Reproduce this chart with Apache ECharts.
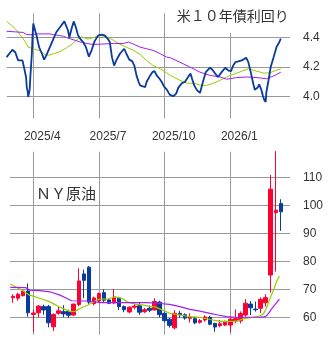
<!DOCTYPE html>
<html><head><meta charset="utf-8">
<script src="https://cdn.jsdelivr.net/npm/echarts@6/dist/echarts.min.js"></script>
<style>html,body{margin:0;padding:0;background:#fff}#c{width:333px;height:344px}</style>
</head><body><div id="c"></div>
<script>
// ---- US 10Y yield (daily closes, read at turning points) ----
const yieldDates = ['2025-03-05','2025-03-13','2025-03-17','2025-03-21','2025-03-27','2025-03-29','2025-03-30','2025-04-01','2025-04-02','2025-04-03','2025-04-04','2025-04-06','2025-04-07','2025-04-09','2025-04-10','2025-04-11','2025-04-12','2025-04-16','2025-04-19','2025-04-23','2025-04-26','2025-04-29','2025-05-04','2025-05-09','2025-05-13','2025-05-18','2025-05-24','2025-05-26','2025-05-29','2025-05-31','2025-06-03','2025-06-06','2025-06-09','2025-06-12','2025-06-16','2025-06-19','2025-06-23','2025-06-27','2025-07-01','2025-07-05','2025-07-10','2025-07-15','2025-07-19','2025-07-23','2025-07-26','2025-07-29','2025-08-01','2025-08-04','2025-08-09','2025-08-15','2025-08-18','2025-08-22','2025-08-26','2025-08-29','2025-09-01','2025-09-04','2025-09-06','2025-09-10','2025-09-13','2025-09-15','2025-09-20','2025-09-23','2025-09-26','2025-09-29','2025-10-03','2025-10-06','2025-10-09','2025-10-13','2025-10-17','2025-10-22','2025-10-26','2025-10-29','2025-11-03','2025-11-07','2025-11-12','2025-11-15','2025-11-17','2025-11-20','2025-11-24','2025-11-28','2025-12-02','2025-12-06','2025-12-12','2025-12-16','2025-12-19','2025-12-23','2025-12-28','2026-01-02','2026-01-06','2026-01-10','2026-01-13','2026-01-16','2026-01-20','2026-01-25','2026-01-31','2026-02-03','2026-02-06','2026-02-10','2026-02-12','2026-02-16','2026-02-18','2026-02-21','2026-02-23','2026-02-25','2026-02-27','2026-02-28','2026-03-03','2026-03-06','2026-03-10','2026-03-14','2026-03-18','2026-03-20'];
const yieldValues = [4.267,4.317,4.30,4.245,4.245,4.20,4.177,4.13,4.06,4.04,3.996,4.046,4.14,4.29,4.415,4.495,4.485,4.404,4.335,4.29,4.25,4.279,4.335,4.393,4.438,4.47,4.51,4.50,4.45,4.40,4.46,4.51,4.47,4.415,4.386,4.37,4.335,4.27,4.317,4.376,4.415,4.42,4.415,4.393,4.37,4.267,4.21,4.245,4.29,4.324,4.29,4.25,4.24,4.21,4.143,4.098,4.075,4.068,4.064,4.098,4.143,4.165,4.172,4.143,4.12,4.098,4.068,4.046,4.012,4.001,4.019,4.06,4.09,4.098,4.136,4.155,4.12,4.075,4.041,4.024,4.098,4.165,4.195,4.177,4.155,4.132,4.165,4.195,4.177,4.172,4.21,4.233,4.238,4.245,4.263,4.233,4.172,4.083,4.046,4.06,4.082,4.046,4.008,3.978,3.962,4.03,4.11,4.20,4.267,4.335,4.37,4.393];
const yieldMaShortDates = ['2025-03-05','2025-03-12','2025-03-19','2025-03-26','2025-03-31','2025-04-04','2025-04-11','2025-04-20','2025-04-27','2025-05-02','2025-05-09','2025-05-18','2025-05-27','2025-06-05','2025-06-12','2025-06-17','2025-06-26','2025-07-03','2025-07-12','2025-07-24','2025-07-31','2025-08-09','2025-08-18','2025-08-28','2025-09-06','2025-09-15','2025-09-24','2025-10-04','2025-10-13','2025-10-18','2025-10-31','2025-11-10','2025-11-19','2025-11-30','2025-12-07','2025-12-17','2025-12-26','2026-01-04','2026-01-18','2026-02-03','2026-02-12','2026-02-24','2026-03-05','2026-03-12','2026-03-20'];
const yieldMaShort = [4.51,4.483,4.45,4.404,4.37,4.335,4.324,4.31,4.285,4.279,4.29,4.305,4.33,4.36,4.393,4.404,4.39,4.40,4.415,4.40,4.382,4.355,4.335,4.313,4.285,4.245,4.21,4.188,4.16,4.143,4.11,4.09,4.09,4.075,4.075,4.09,4.11,4.132,4.159,4.188,4.175,4.159,4.16,4.175,4.188];
const yieldMaLongDates = ['2025-03-05','2025-03-28','2025-04-02','2025-04-11','2025-04-16','2025-05-04','2025-05-09','2025-05-23','2025-05-27','2025-06-05','2025-06-15','2025-06-24','2025-07-03','2025-07-12','2025-07-31','2025-08-14','2025-08-21','2025-08-28','2025-09-06','2025-09-15','2025-09-24','2025-10-04','2025-10-13','2025-10-18','2025-10-31','2025-11-14','2025-11-28','2025-12-12','2025-12-26','2026-01-04','2026-01-18','2026-02-01','2026-02-15','2026-02-28','2026-03-12','2026-03-20'];
const yieldMaLong = [4.443,4.435,4.42,4.42,4.425,4.425,4.42,4.409,4.40,4.386,4.37,4.36,4.353,4.355,4.36,4.36,4.37,4.355,4.335,4.324,4.313,4.29,4.267,4.263,4.233,4.20,4.165,4.143,4.132,4.117,4.128,4.132,4.128,4.12,4.143,4.165];

// ---- NY crude oil (weekly candles, week ending Friday) ----
const oilFirstWeek = '2025-03-14';
const oilOpen  = [67.1,66.9,67.8,69.5,61.1,61.7,63.9,63.9,56.7,61.5,62.1,62.2,60.9,64.6,75.6,78.0,65.0,65.9,68.9,66.3,65.2,66.9,63.9,62.0,63.7,64.2,62.1,63.3,62.7,65.5,61.5,59.4,56.3,61.5,61.0,59.7,59.6,58.3,59.1,60.1,57.9,57.1,57.3,57.3,58.8,58.8,60.9,64.8,63.0,63.3,65.3,75.2,97.5,100.8];
const oilClose = [67.6,68.3,69.5,61.7,61.6,64.1,62.7,58.1,61.1,62.4,61.3,60.8,64.8,73.1,73.3,65.5,67.0,68.6,66.2,65.1,67.3,63.9,62.8,63.7,64.1,61.9,62.8,62.6,65.7,61.0,58.9,57.2,61.5,61.0,59.8,60.1,58.1,58.9,60.2,57.6,56.6,57.8,58.3,59.4,59.6,61.4,65.1,63.5,62.8,66.5,67.1,105.9,98.4,97.8];
const oilLow   = [65.3,66.0,67.6,60.3,54.9,60.1,61.0,56.5,55.2,61.0,60.1,59.8,60.5,64.0,67.0,64.9,64.3,65.5,65.2,64.8,64.8,62.7,61.9,61.5,62.9,61.0,61.6,61.9,62.5,60.0,58.3,56.4,55.8,59.8,59.2,58.2,57.6,57.8,58.5,57.2,54.9,56.5,56.9,54.8,57.9,57.9,60.3,60.9,62.1,61.6,63.9,68.9,76.4,91.0];
const oilHigh  = [68.3,68.9,69.9,72.2,62.8,64.5,64.6,64.5,61.5,64.1,64.4,62.8,65.0,77.6,77.1,78.4,67.5,68.9,70.1,66.6,70.2,67.4,64.3,64.0,65.0,65.5,63.4,64.3,66.9,66.0,62.4,59.8,62.6,62.4,61.5,61.5,60.3,59.5,60.8,60.6,58.1,59.1,58.9,60.3,62.9,62.2,66.6,65.9,65.7,67.2,68.3,111.0,119.5,102.3];
const oilMaShortDates = ['2025-03-10','2025-03-24','2025-04-06','2025-04-20','2025-05-04','2025-05-18','2025-06-01','2025-06-08','2025-06-15','2025-06-26','2025-07-06','2025-07-12','2025-07-24','2025-08-02','2025-08-12','2025-08-20','2025-08-30','2025-09-09','2025-09-20','2025-09-27','2025-10-04','2025-10-17','2025-10-31','2025-11-14','2025-11-28','2025-12-12','2025-12-26','2026-01-09','2026-01-18','2026-01-27','2026-02-10','2026-02-17','2026-02-24','2026-02-28','2026-03-05','2026-03-10','2026-03-14','2026-03-18'];
const oilMaShort = [72.0,70.1,68.0,66.9,65.6,63.7,62.1,62.2,63.3,64.5,66.0,66.6,66.7,67.4,66.9,65.5,64.8,64.5,64.0,63.8,63.0,61.5,60.9,60.3,60.1,59.3,58.6,58.6,58.7,59.5,60.1,60.3,61.3,63.3,66.9,69.8,72.8,74.8];
const oilMaLongDates = ['2025-03-10','2025-03-31','2025-04-06','2025-04-20','2025-05-04','2025-05-18','2025-05-27','2025-06-03','2025-06-15','2025-06-29','2025-07-12','2025-08-05','2025-08-28','2025-09-15','2025-09-29','2025-10-17','2025-10-31','2025-11-14','2025-11-28','2025-12-12','2025-12-23','2026-01-04','2026-01-16','2026-02-01','2026-02-19','2026-02-24','2026-02-28','2026-03-03','2026-03-07','2026-03-12','2026-03-18'];
const oilMaLong = [70.8,70.7,69.8,69.6,69.2,68.0,66.9,66.0,65.9,65.9,65.3,65.3,65.3,65.3,65.1,64.7,63.9,62.9,62.3,61.5,60.9,60.3,60.1,60.1,60.1,60.2,60.6,61.5,63.0,64.6,66.6];

// ---- axis ticks ----
const monthTickDates = ['2025-04-11','2025-07-11','2025-10-10','2026-01-09'];
const monthTickLabels = ['2025/4','2025/7','2025/10','2026/1'];
const yieldTicks = [4.0, 4.2, 4.4];
const oilTicks = [60, 70, 80, 90, 100, 110];

const BASE = Date.UTC(2025, 3, 11);
const toDay = s => { const p = s.split('-').map(Number); return (Date.UTC(p[0], p[1] - 1, p[2]) - BASE) / 864e5; };
const pairs = (dates, vals) => dates.map((d, i) => [toDay(d), vals[i]]);
const firstWeek = toDay(oilFirstWeek);
const candles = oilOpen.map((o, i) => [firstWeek + 7 * i, o, oilClose[i], oilLow[i], oilHigh[i]]);
const monthTicks = monthTickDates.map(toDay);

const GRID = '#999';
const LABEL = { color: '#333', fontSize: 12, fontFamily: '"Liberation Sans", Arial, sans-serif' };
const X_MAX = 355.74;

function xAxis(gridIndex, min, showLabel) {
  return {
    type: 'value', gridIndex, min, max: X_MAX,
    axisLine: { show: false },
    axisTick: { show: false, customValues: monthTicks },
    axisLabel: Object.assign({ show: showLabel, customValues: monthTicks, margin: 12, padding: [0, 0, 0, 18],
      formatter: v => { const k = monthTicks.indexOf(v); return k >= 0 ? monthTickLabels[k] : ''; } }, LABEL),
    splitLine: { show: true, lineStyle: { color: GRID, width: 1 } }
  };
}
function yAxis(gridIndex, min, max, ticks, fmt) {
  return {
    type: 'value', gridIndex, min, max, position: 'right',
    axisLine: { show: false },
    axisTick: { show: false, customValues: ticks },
    axisLabel: Object.assign({ customValues: ticks, margin: 13, formatter: fmt }, LABEL),
    splitLine: { show: true, lineStyle: { color: GRID, width: 1 } }
  };
}

const chart = echarts.init(document.getElementById('c'), null, { renderer: 'canvas' });
const cjk = '"Noto Sans CJK JP", sans-serif';
chart.setOption({
  animation: false,
  backgroundColor: '#fff',
  title: [
    { text: '米１０年債利回り', right: 42.3, top: 4, padding: [5, 2, 10, 4], backgroundColor: '#fff',
      textStyle: { fontSize: 14, fontWeight: 'normal', color: '#333', fontFamily: cjk } },
    { text: 'ＮＹ原油', left: 36, top: 186, padding: 0,
      textStyle: { fontSize: 15, fontWeight: 'normal', color: '#333', fontFamily: cjk } }
  ],
  grid: [
    { left: 6.7, right: 43, top: 13.3, height: 105.2 },
    { left: 10, right: 43, top: 151.7, height: 183.1 }
  ],
  xAxis: [xAxis(0, -36.86, true), xAxis(1, -32.29, false)],
  yAxis: [
    yAxis(0, 3.85, 4.565, yieldTicks, v => v.toFixed(1)),
    yAxis(1, 53.82, 119.3, oilTicks, v => String(Math.round(v)))
  ],
  series: [
    { type: 'line', xAxisIndex: 0, yAxisIndex: 0, data: pairs(yieldMaShortDates, yieldMaShort), showSymbol: false,
      lineStyle: { color: '#99cc00', width: 1 }, z: 2 },
    { type: 'line', xAxisIndex: 0, yAxisIndex: 0, data: pairs(yieldMaLongDates, yieldMaLong), showSymbol: false,
      lineStyle: { color: '#9f1ff5', width: 1 }, z: 2 },
    { type: 'line', xAxisIndex: 0, yAxisIndex: 0, data: pairs(yieldDates, yieldValues), showSymbol: false,
      lineStyle: { color: '#0a3a9c', width: 1.8 }, z: 3 },
    { type: 'candlestick', xAxisIndex: 1, yAxisIndex: 1, data: candles, encode: { x: 0, y: [1, 2, 3, 4] },
      barWidth: 4, clip: true,
      itemStyle: { color: '#ff0033', color0: '#083c9c', borderColor: '#ff0033', borderColor0: '#083c9c', borderWidth: 1 }, z: 2 },
    { type: 'line', xAxisIndex: 1, yAxisIndex: 1, data: pairs(oilMaShortDates, oilMaShort), showSymbol: false,
      lineStyle: { color: '#99cc00', width: 1.2 }, z: 3 },
    { type: 'line', xAxisIndex: 1, yAxisIndex: 1, data: pairs(oilMaLongDates, oilMaLong), showSymbol: false,
      lineStyle: { color: '#9f1ff5', width: 1.2 }, z: 3 }
  ]
});
</script></body></html>
